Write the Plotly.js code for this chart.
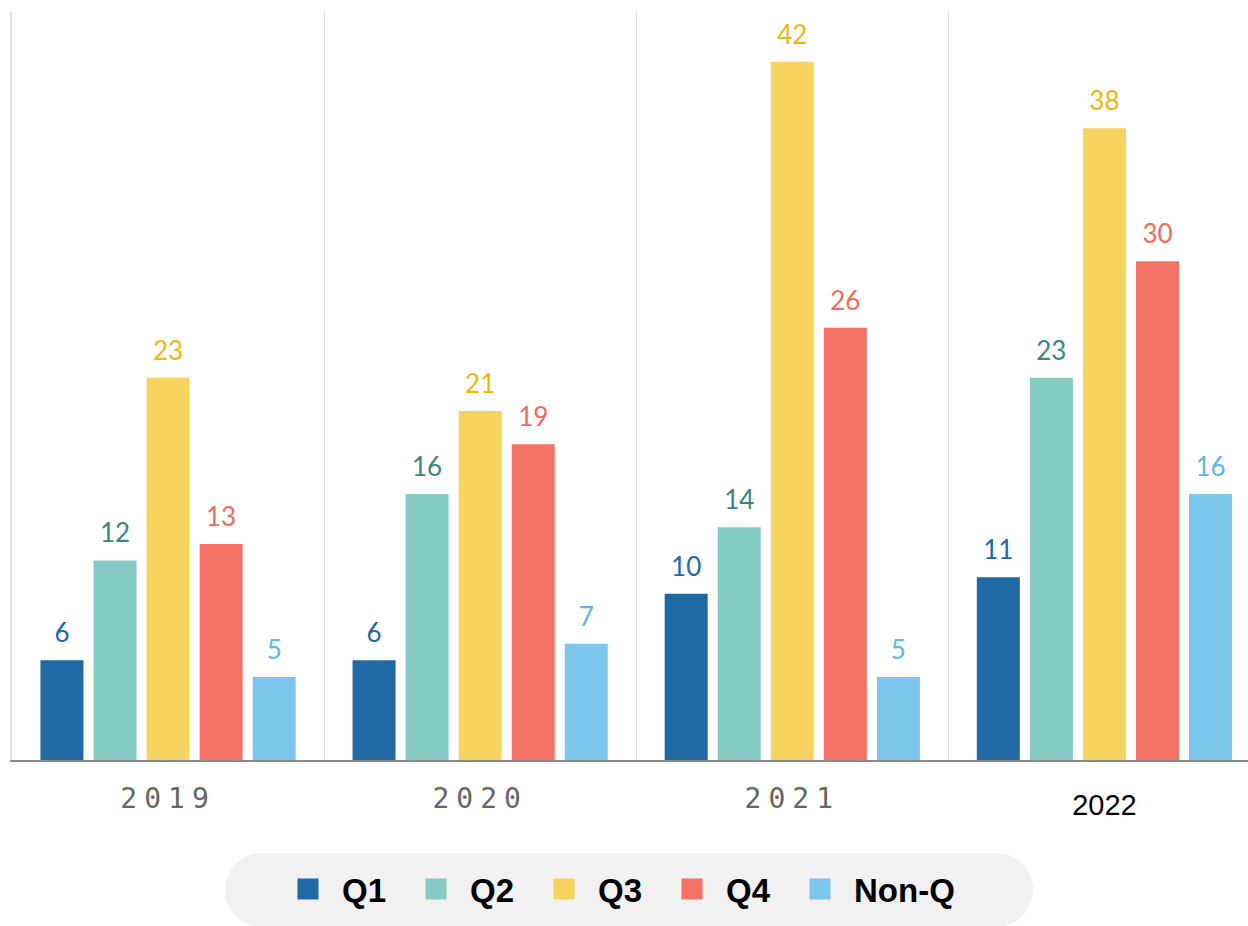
<!DOCTYPE html>
<html>
<head>
<meta charset="utf-8">
<script src="https://cdn.plot.ly/plotly-3.0.1.min.js"></script>
<style>html,body{margin:0;padding:0;background:#fff;overflow:hidden}</style>
</head>
<body>
<div id="chart" style="width:1248px;height:926px"></div>
<script>
// ---- data ----
const years = ["2019", "2020", "2021", "2022"];
const seriesNames = ["Q1", "Q2", "Q3", "Q4", "Non-Q"];
const q1 = [6, 6, 10, 11];
const q2 = [12, 16, 14, 23];
const q3 = [23, 21, 42, 38];
const q4 = [13, 19, 26, 30];
const nonQ = [5, 7, 5, 16];
const tickLabels = [
  "<span style='letter-spacing:7px'>2019</span>",
  "<span style='letter-spacing:7px'>2020</span>",
  "<span style='letter-spacing:7px'>2021</span>",
  "<span style='font-family:Liberation Sans, Arial, sans-serif;color:#000000;font-size:29px;baseline-shift:-7px'>2022</span>"
];

// ---- styles ----
const barColors = ["#1f6aa5", "#85cbc3", "#f7d35f", "#f47366", "#7cc6ec"];
const labelColors = ["#1f6aa5", "#3d8579", "#f0b70a", "#f26a5b", "#62b6ea"];
const seriesValues = [q1, q2, q3, q4, nonQ];
const BARGAP = 0.15;

const traces = [];
seriesValues.forEach((vals, i) => {
  traces.push({
    type: "bar", name: seriesNames[i], x: years, y: vals, offsetgroup: "g" + i,
    marker: {color: barColors[i]}, showlegend: false, hoverinfo: "x+y+name"
  });
});
seriesValues.forEach((vals, i) => {
  traces.push({
    type: "scatter", mode: "markers+text", x: years, y: vals, offsetgroup: "g" + i,
    text: vals.map(String), textposition: "top center",
    textfont: {family: "Lato, 'Noto Sans', sans-serif", size: 26, color: labelColors[i]},
    marker: {size: 17, opacity: 0, color: barColors[i]},
    cliponaxis: false, showlegend: false, hoverinfo: "skip"
  });
});
// legend entries
seriesValues.forEach((vals, i) => {
  traces.push({
    type: "scatter", mode: "markers", name: seriesNames[i], x: [null], y: [null], offsetgroup: "g" + i,
    marker: {symbol: "square", size: 16, color: barColors[i], line: {color: barColors[i], width: 5}},
    showlegend: true, hoverinfo: "skip"
  });
});
// blank spacer entry so the last legend label is not clipped
traces.push({
  type: "scatter", mode: "markers", name: "", x: [null], y: [null], offsetgroup: "g4",
  marker: {symbol: "square", size: 2, color: "rgba(0,0,0,0)", line: {color: "rgba(0,0,0,0)", width: 0}},
  showlegend: true, hoverinfo: "skip"
});

// legend pill background (paper coords)
const x0 = (225 - 12) / 1236, x1 = (1033 - 12) / 1236;
const yt = (760 - 853) / 748, yb = (760 - 927) / 748;
const ym = (yt + yb) / 2, ry = (yt - yb) / 2, rx = 37 / 1236, k = 0.5523;
const pill = `M${x0 + rx},${yt} L${x1 - rx},${yt} C${x1 - rx + k * rx},${yt} ${x1},${ym + k * ry} ${x1},${ym} ` +
  `C${x1},${ym - k * ry} ${x1 - rx + k * rx},${yb} ${x1 - rx},${yb} L${x0 + rx},${yb} ` +
  `C${x0 + rx - k * rx},${yb} ${x0},${ym - k * ry} ${x0},${ym} C${x0},${ym + k * ry} ${x0 + rx - k * rx},${yt} ${x0 + rx},${yt} Z`;

const layout = {
  width: 1248, height: 926,
  margin: {l: 12, r: 0, t: 12, b: 166},
  paper_bgcolor: "#ffffff", plot_bgcolor: "#ffffff",
  barmode: "group", bargap: BARGAP, bargroupgap: 0.19,
  scattermode: "group", scattergap: BARGAP,
  showlegend: true,
  legend: {
    orientation: "h", x: (274 - 12) / 1236, xanchor: "left", y: -0.1725, yanchor: "middle",
    bgcolor: "rgba(0,0,0,0)", borderwidth: 0, itemwidth: 58,
    font: {family: "'Liberation Sans', Arial, sans-serif", size: 33, color: "#000000", weight: "bold"},
    entrywidth: 55, entrywidthmode: "pixels", itemclick: false, itemdoubleclick: false
  },
  xaxis: {
    type: "category", categoryorder: "array", categoryarray: years,
    range: [-0.5, 3.46], fixedrange: true,
    tickmode: "array", tickvals: years, ticktext: tickLabels,
    tickson: "boundaries", ticks: "", showgrid: true, gridcolor: "#dedede", gridwidth: 1,
    showline: true, linecolor: "#8a8a8a", linewidth: 2,
    tickfont: {family: "'DejaVu Sans Mono', monospace", size: 28, color: "#666666"},
    ticklabelstandoff: 12, zeroline: false
  },
  yaxis: {
    range: [0, 45], fixedrange: true, showgrid: false, zeroline: false,
    showticklabels: false, ticks: "", showline: true, linecolor: "#e2e2e2", linewidth: 2
  },
  shapes: [{type: "path", xref: "paper", yref: "paper", path: pill, fillcolor: "#f1f1f1", line: {width: 0}, layer: "below"}]
};

Plotly.newPlot("chart", traces, layout, {displayModeBar: false, staticPlot: false});
</script>
</body>
</html>
